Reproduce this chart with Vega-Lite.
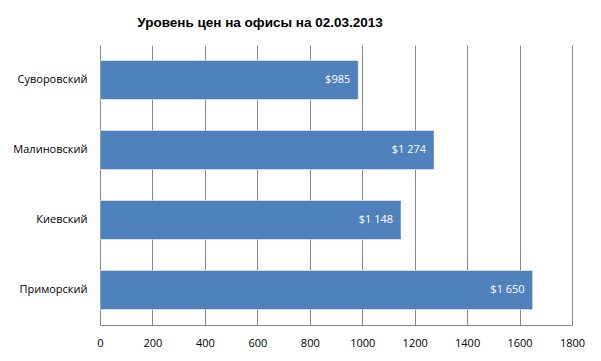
{
  "$schema": "https://vega.github.io/schema/vega-lite/v6.json",
  "autosize": "none",
  "width": 472,
  "height": 280,
  "padding": {"left": 100, "top": 45, "right": 29, "bottom": 36},
  "background": "white",
  "title": {
    "text": "Уровень цен на офисы на 02.03.2013",
    "font": "Liberation Sans",
    "fontSize": 13.5,
    "fontWeight": "bold",
    "color": "black",
    "anchor": "middle",
    "frame": "group",
    "dx": -76,
    "offset": 16
  },
  "data": {
    "values": [
      {"district": "Суворовский", "price": 985, "label": "$985"},
      {"district": "Малиновский", "price": 1274, "label": "$1 274"},
      {"district": "Киевский", "price": 1148, "label": "$1 148"},
      {"district": "Приморский", "price": 1650, "label": "$1 650"}
    ]
  },
  "config": {
    "view": {"stroke": null},
    "axis": {"labelFont": "Open Sans", "labelFontSize": 11, "labelColor": "black"}
  },
  "encoding": {
    "y": {
      "field": "district",
      "type": "nominal",
      "sort": null,
      "scale": {"paddingInner": 0.44, "paddingOuter": 0.22},
      "axis": {"title": null, "ticks": false, "domainColor": "#888888", "labelPadding": 13, "grid": false}
    },
    "x": {
      "field": "price",
      "type": "quantitative",
      "scale": {"domain": [0, 1800], "nice": false},
      "axis": {
        "title": null,
        "values": [0, 200, 400, 600, 800, 1000, 1200, 1400, 1600, 1800],
        "format": "d",
        "grid": true,
        "gridColor": "#888888",
        "gridOpacity": 1,
        "domainColor": "#888888",
        "ticks": false,
        "labelPadding": 12,
        "labelFlush": false
      }
    }
  },
  "layer": [
    {
      "mark": {"type": "bar", "color": "#4f81bd", "stroke": "#ffffff", "strokeWidth": 0.5}
    },
    {
      "mark": {"type": "text", "align": "right", "dx": -8, "color": "white", "font": "Open Sans", "fontSize": 11},
      "encoding": {"text": {"field": "label"}}
    }
  ]
}
